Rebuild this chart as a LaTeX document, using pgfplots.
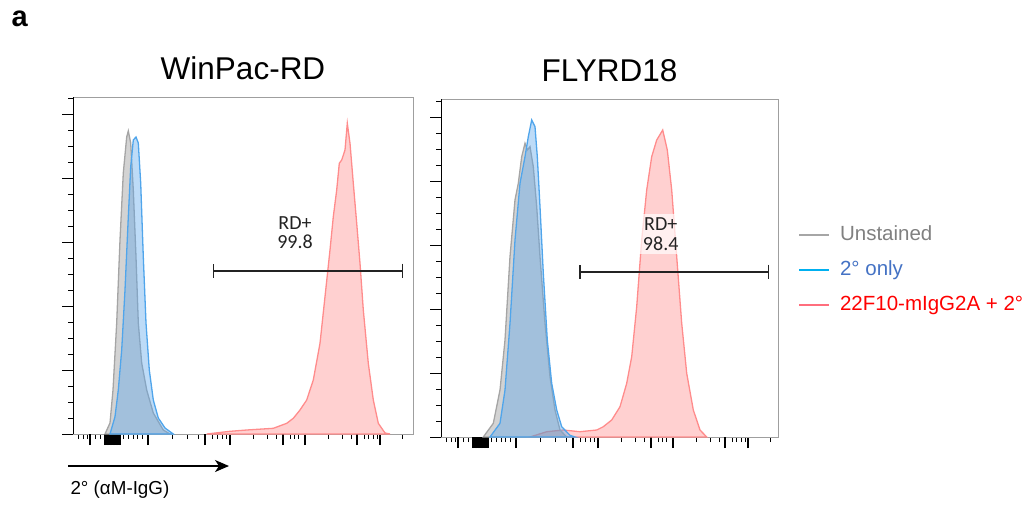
\documentclass[border=0pt]{standalone}
\usepackage{pgfplots}
\pgfplotsset{compat=1.18}
\usepackage{fontspec}
\setmainfont{Liberation Sans}
\newfontfamily\gatefont{Carlito}
\usetikzlibrary{arrows.meta}

\definecolor{grayline}{RGB}{165,165,165}
\definecolor{grayfill}{RGB}{128,128,128}
\definecolor{blueline}{RGB}{80,165,235}
\definecolor{bluefill}{RGB}{90,165,235}
\definecolor{redline}{RGB}{255,140,140}
\definecolor{redfill}{RGB}{255,120,120}
\definecolor{gatecol}{RGB}{35,35,35}
\definecolor{legunst}{RGB}{128,128,128}
\definecolor{legblue}{RGB}{68,114,196}
\definecolor{legcyan}{RGB}{0,176,240}
\definecolor{legpink}{RGB}{255,110,125}

\pgfplotsset{
  facs/.style={
    scale only axis, anchor=south west, ymin=0,
    axis line style={draw=gray!75, line width=0.8pt},
    tick pos=left, tick align=outside,
    major tick length=11pt, minor tick length=5pt,
    xtick={75,157,232,307}, xticklabels={},
    minor xtick={5,10,14,22,27,50,55,60,64,69,99,114,125,139,144,149,153,
                 180,194,203,217,221,225,255,269,278,291,295,300,304,329},
    extra x ticks={17,32,33.5,35,36.5,38,39.5,41,42.5,44,45.5,47,132,210,284},
    extra x tick labels={},
    xtick style={black, line width=2.5pt},
    minor x tick style={black, line width=1pt},
    ytick={0,64,...,320}, yticklabels={},
    minor ytick={16,32,...,336},
    ytick style={black, line width=1pt},
    title style={font=\fontsize{31.5}{36}\selectfont, at={(0.5,1)}, anchor=base, yshift=12pt},
  },
  gray hist/.style={draw=grayline, line width=1.3pt, fill=grayfill, fill opacity=0.35},
  blue hist/.style={draw=blueline, line width=1.3pt, fill=bluefill, fill opacity=0.4},
  red hist/.style={draw=redline, line width=1.3pt, fill=redfill, fill opacity=0.35},
  gate/.style={gatecol, line width=1.6pt, {Bar[width=14pt]}-{Bar[width=14pt]}},
}

\begin{document}
\begin{tikzpicture}
\path[use as bounding box] (0pt,0pt) rectangle (1035pt,-504pt);
\node[anchor=base west, font=\bfseries\fontsize{29}{32}\selectfont] at (8pt,-26pt) {a};

% ---- WinPac-RD ----
\begin{axis}[facs, at={(73pt,-434pt)}, width=340pt, height=337pt,
  xmin=0, xmax=340, ymax=337, title={WinPac-RD}]
\addplot[red hist] coordinates {
 (133.7,0) (157,2.7) (173.7,4) (200.3,5.7) (213.7,10.7) (220.3,15.7) (227,24)
 (233.7,34) (240.3,54) (247,90.7) (252,137.3) (257,184) (260.3,217.3) (263.7,244)
 (266.3,270.7) (268.7,274) (272,284) (274.3,310.7) (277,290.7) (280.3,250.7)
 (283.7,210.7) (287,170.7) (290.3,124) (295.3,70.7) (300.3,34) (305.3,10.7)
 (312,1) (317,0)} \closedcycle;
\addplot[gray hist] coordinates {
 (32,0) (37,11) (40,44) (43.7,111) (47,194) (50.3,261) (53.7,297) (55.3,303)
 (57.7,291) (60.3,244) (63,177) (65.3,111) (68.7,71) (73.7,44) (80.3,21)
 (90.3,4) (97,0)} \closedcycle;
\addplot[blue hist] coordinates {
 (37,0) (42,17.3) (45.3,44) (48.7,84) (52,144) (55.3,217) (57.7,267) (60.3,294)
 (63,297) (65.3,291) (67.7,251) (70.3,177) (73,111) (76.3,64) (80.3,34)
 (85.3,16) (92,6) (100.3,0)} \closedcycle;
\addplot[gate] coordinates {(139.7,163.3) (330.3,163.3)};
\node[font=\gatefont\fontsize{20}{19.5}\selectfont, text=gatecol, align=center]
  at (axis cs:222,201.5) {RD+\\99.8};
\draw[black, line width=0.9pt] (rel axis cs:0,0) -- (rel axis cs:0,1);
\end{axis}

% ---- FLYRD18 ----
\begin{axis}[facs, at={(441pt,-437pt)}, width=337pt, height=338pt,
  xmin=0, xmax=337, ymax=338, title={FLYRD18},
  legend style={at={(1.059,0.627)}, anchor=north west, draw=none, fill=none,
    inner sep=0pt, font=\fontsize{20.5}{24}\selectfont, row sep=15pt,
    nodes={inner sep=0pt, text height=15pt, text depth=5pt},
    /tikz/every odd column/.append style={column sep=10pt}},
  legend cell align=left,
  legend image code/.code={\draw[#1] (0pt,0pt) -- (30pt,0pt);}]
\addlegendimage{legunst!70, line width=2pt}
\addlegendentry{\textcolor{legunst}{Unstained}}
\addlegendimage{legcyan, line width=2pt}
\addlegendentry{\textcolor{legblue}{2° only}}
\addlegendimage{legpink, line width=2pt}
\addlegendentry{\textcolor{red}{22F10-mIgG2A + 2°}}
\addplot[red hist, forget plot] coordinates {
 (89,0) (105.7,5.3) (122.3,7) (139,5.3) (155.7,7) (162.3,10.3) (170.7,17)
 (179,30.3) (185.7,53.7) (190.7,80.3) (195.7,130.3) (200.7,197) (205.7,247)
 (210.7,280.3) (215.7,297) (221.7,307) (226.3,287) (230.7,247) (235.7,180.3)
 (240.7,113.7) (245.7,63.7) (252.3,27) (259,7) (265.7,0)} \closedcycle;
\addplot[gray hist, forget plot] coordinates {
 (42.3,0) (52.3,13.7) (59,47) (64,97) (69,180.3) (74,237) (77.3,253.7)
 (80.7,280.3) (84,293.7) (86.3,287) (89,290.3) (92.3,270.3) (95.7,230.3)
 (99,180.3) (104,113.7) (109,60.3) (114,27) (119,7) (125.7,0)} \closedcycle;
\addplot[blue hist, forget plot] coordinates {
 (49,0) (59,13.7) (64,47) (69,113.7) (74,197) (79,253.7) (84,280.3) (87.3,300.3)
 (90.7,317) (94,310.3) (96.3,280.3) (99,230.3) (102.3,163.7) (106.3,97)
 (110.7,53.7) (115.7,27) (120.7,10.3) (129,1.7) (134,0)} \closedcycle;
\addplot[gate, forget plot] coordinates {(138,165.3) (328.3,165.3)};
\node[font=\gatefont\fontsize{20}{19.5}\selectfont, text=gatecol, align=center,
  fill=white, fill opacity=0.7, text opacity=1, inner xsep=3pt, inner ysep=4pt]
  at (axis cs:219.7,203) {RD+\\98.4};
\draw[black, line width=0.9pt] (rel axis cs:0,0) -- (rel axis cs:0,1);
\end{axis}

\draw[-{Stealth[length=14pt,width=12pt,inset=4pt]}, line width=1.4pt] (68pt,-466pt) -- (229pt,-466pt);
\node[anchor=base west, font=\fontsize{18.8}{22}\selectfont] at (67pt,-494pt) {2° (αM-IgG)};
\end{tikzpicture}
\end{document}
